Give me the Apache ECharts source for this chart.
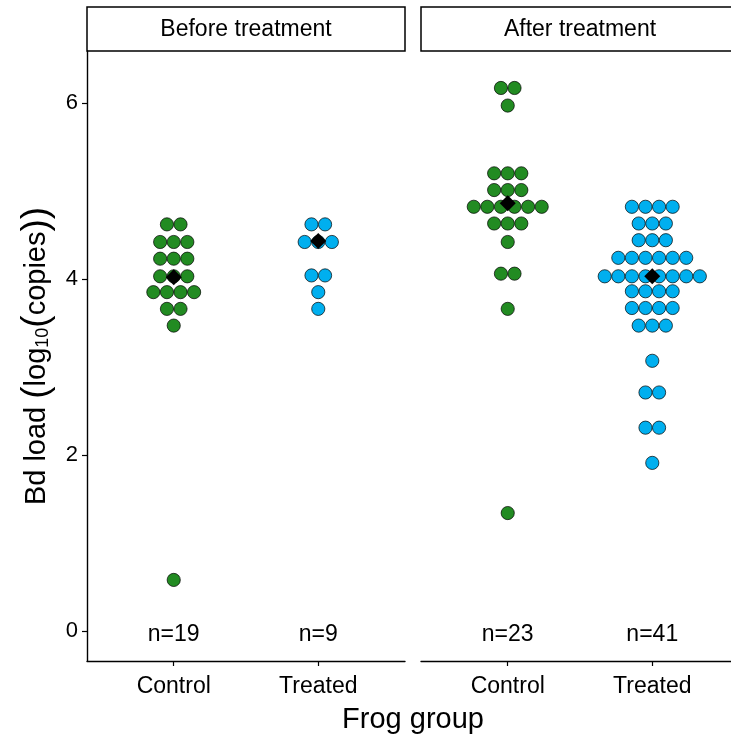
<!DOCTYPE html>
<html>
<head>
<meta charset="utf-8">
<script src="https://cdn.jsdelivr.net/npm/echarts@6/dist/echarts.min.js"></script>
<style>
html,body{margin:0;padding:0;background:#fff;}
#chart{width:731px;height:740px;}
</style>
</head>
<body>
<div id="chart"></div>
<script>
// ---- data ----
const categories = ['Control', 'Treated'];
const panels = ['Before treatment', 'After treatment'];
const xTitle = 'Frog group';
const yTicks = [0, 2, 4, 6];

// dot-plot rows: bin level (log10 copies) and number of frogs in that bin
const beforeControlLevels = [4.62, 4.42, 4.23, 4.03, 3.85, 3.66, 3.47, 0.58];
const beforeControlCounts = [2, 3, 3, 3, 4, 2, 1, 1];
const beforeTreatedLevels = [4.62, 4.42, 4.04, 3.85, 3.66];
const beforeTreatedCounts = [2, 3, 2, 1, 1];
const afterControlLevels = [6.17, 5.97, 5.20, 5.01, 4.82, 4.63, 4.42, 4.06, 3.66, 1.34];
const afterControlCounts = [2, 1, 3, 3, 6, 3, 1, 2, 1, 1];
const afterTreatedLevels = [4.82, 4.63, 4.44, 4.24, 4.03, 3.86, 3.67, 3.47, 3.07, 2.71, 2.31, 1.91];
const afterTreatedCounts = [4, 3, 3, 6, 8, 4, 4, 3, 1, 2, 2, 1];

// medians (black diamonds)
const beforeMedians = [4.02, 4.43];
const afterMedians = [4.86, 4.03];
// sample sizes
const beforeN = [19, 9];
const afterN = [23, 41];

// ---- build ----
const GREEN = '#228B22';
const BLUE = '#00AFEF';
const dotStep = 0.094; // horizontal stacking step in x-axis units (one dot diameter)
const FONT = 'Liberation Sans';

function stack(levels, counts, catIdx) {
  const pts = [];
  levels.forEach((y, r) => {
    const k = counts[r];
    for (let i = 0; i < k; i++) {
      pts.push([catIdx + 1 + (i - (k - 1) / 2) * dotStep, y]);
    }
  });
  return pts;
}

function dotSeries(levels, counts, catIdx, color, gi) {
  return {
    type: 'scatter', xAxisIndex: gi, yAxisIndex: gi,
    data: stack(levels, counts, catIdx),
    symbol: 'circle', symbolSize: 13.2,
    itemStyle: { color: color, borderColor: '#000', borderWidth: 0.7, opacity: 1 },
    emphasis: { disabled: true },
    silent: true, z: 2
  };
}
function medianSeries(meds, gi) {
  return {
    type: 'scatter', xAxisIndex: gi, yAxisIndex: gi,
    data: meds.map((m, i) => [i + 1, m]),
    symbol: 'diamond', symbolSize: [16, 16],
    itemStyle: { color: '#000', opacity: 1 },
    emphasis: { disabled: true },
    silent: true, z: 5
  };
}
function nSeries(ns, gi) {
  return {
    type: 'scatter', xAxisIndex: gi, yAxisIndex: gi,
    data: ns.map((n, i) => ({ value: [i + 1, 0], n: n })),
    symbolSize: 0,
    itemStyle: { opacity: 1 },
    label: {
      show: true, position: 'inside', offset: [0, 4], color: '#000', opacity: 1,
      fontFamily: FONT, fontSize: 23,
      formatter: (p) => 'n=' + p.data.n
    },
    emphasis: { disabled: true },
    silent: true, z: 6
  };
}

const xAxisBase = (gi, max) => ({
  type: 'value', gridIndex: gi, min: 0.4, max: max,
  splitLine: { show: false },
  axisLine: { show: true, onZero: false, lineStyle: { color: '#000', width: 1.4 } },
  axisTick: { show: true, length: 5, lineStyle: { color: '#000', width: 1.2 }, customValues: [1, 2] },
  axisLabel: {
    show: true, customValues: [1, 2], color: '#000', fontFamily: FONT, fontSize: 23, margin: 14,
    formatter: (v) => categories[Math.round(v) - 1] || ''
  }
});

// right panel is cut by the page edge: keep same px-per-unit as the left one
const rightMax = 0.4 + 2.2 * 310 / 318;

const option = {
  backgroundColor: '#fff',
  animation: false,
  grid: [
    { left: 87, top: 51, width: 318, height: 610 },
    { left: 421, top: 51, width: 310, height: 610 }
  ],
  xAxis: [xAxisBase(0, 2.6), xAxisBase(1, rightMax)],
  yAxis: [
    {
      type: 'value', gridIndex: 0, min: -0.341, max: 6.59,
      splitLine: { show: false },
      axisLine: { show: true, onZero: false, lineStyle: { color: '#000', width: 1.4 } },
      axisTick: { show: true, length: 5, lineStyle: { color: '#000', width: 1.2 }, customValues: yTicks },
      axisLabel: { show: true, customValues: yTicks, color: '#000', fontFamily: FONT, fontSize: 22, margin: 9 },
      name: '{t|Bd load }{p|(}{t|log}{s|10}{p|(}{t|copies}{p|))}',
      nameLocation: 'middle', nameGap: 31, nameRotate: 90,
      nameTextStyle: {
        color: '#000', fontFamily: FONT,
        rich: {
          t: { fontFamily: FONT, fontSize: 29, color: '#000', lineHeight: 38 },
          p: { fontFamily: FONT, fontSize: 37, color: '#000', lineHeight: 38 },
          s: { fontFamily: FONT, fontSize: 18, color: '#000', lineHeight: 38, verticalAlign: 'bottom', padding: [0, 0, 4, 0] }
        }
      }
    },
    {
      type: 'value', gridIndex: 1, min: -0.341, max: 6.59,
      splitLine: { show: false },
      axisLine: { show: false }, axisTick: { show: false }, axisLabel: { show: false }
    }
  ],
  graphic: [
    { type: 'rect', shape: { x: 87, y: 7, width: 318, height: 44 },
      style: { fill: '#fff', stroke: '#000', lineWidth: 1.5 }, silent: true },
    { type: 'rect', shape: { x: 421, y: 7, width: 318, height: 44 },
      style: { fill: '#fff', stroke: '#000', lineWidth: 1.5 }, silent: true },
    { type: 'text', x: 246, y: 30, style: { text: panels[0], fill: '#000', font: '23px "Liberation Sans"', align: 'center', verticalAlign: 'middle' }, silent: true },
    { type: 'text', x: 580, y: 30, style: { text: panels[1], fill: '#000', font: '23px "Liberation Sans"', align: 'center', verticalAlign: 'middle' }, silent: true },
    { type: 'text', x: 413, y: 720, style: { text: xTitle, fill: '#000', font: '29px "Liberation Sans"', align: 'center', verticalAlign: 'middle' }, silent: true }
  ],
  series: [
    dotSeries(beforeControlLevels, beforeControlCounts, 0, GREEN, 0),
    dotSeries(beforeTreatedLevels, beforeTreatedCounts, 1, BLUE, 0),
    medianSeries(beforeMedians, 0),
    nSeries(beforeN, 0),
    dotSeries(afterControlLevels, afterControlCounts, 0, GREEN, 1),
    dotSeries(afterTreatedLevels, afterTreatedCounts, 1, BLUE, 1),
    medianSeries(afterMedians, 1),
    nSeries(afterN, 1)
  ]
};

const chart = echarts.init(document.getElementById('chart'), null, { renderer: 'canvas' });
chart.setOption(option);
</script>
</body>
</html>
